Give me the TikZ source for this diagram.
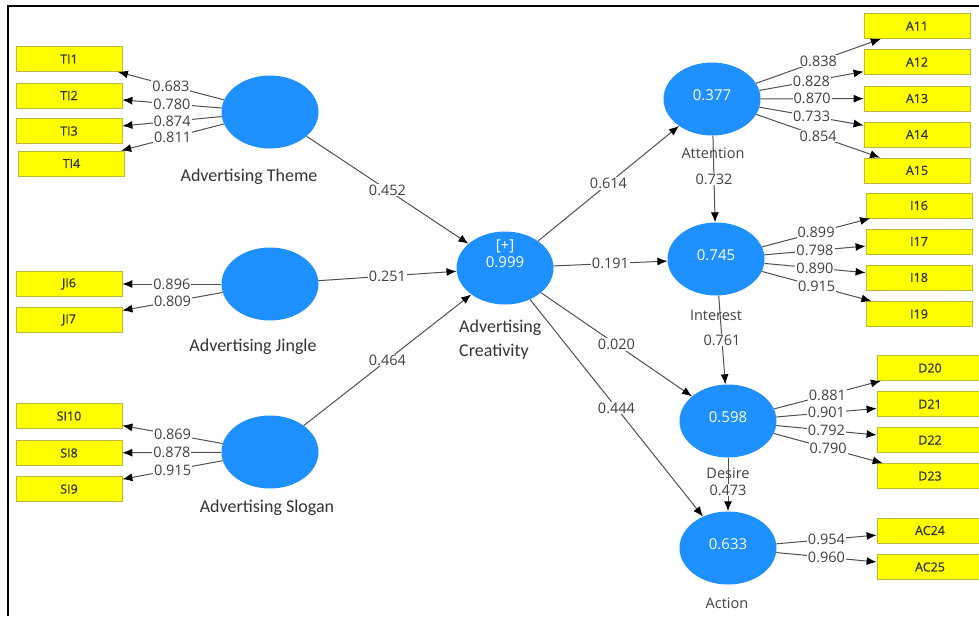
\documentclass[tikz,border=0pt]{standalone}
\usepackage{fontspec}
\setmainfont{Open Sans}
\newfontfamily\namefont{Carlito}
\newfontfamily\boxfont[FakeBold=0.8]{Open Sans}
\usetikzlibrary{shapes.geometric,arrows.meta}
\definecolor{lvblue}{RGB}{30,144,255}
\definecolor{indyellow}{RGB}{255,255,0}
\definecolor{indedge}{RGB}{185,185,60}
\definecolor{pathgray}{RGB}{80,80,80}
\definecolor{numgray}{RGB}{65,65,65}
\tikzset{
  lv/.style={ellipse, fill=lvblue, minimum width=97pt, minimum height=73pt,
    inner sep=0pt},
  lvval/.style={text=white, font=\fontsize{15}{17}\selectfont, yshift=4pt},
  ind/.style={rectangle, fill=indyellow, draw=indedge, line width=0.8pt,
    minimum width=106pt, minimum height=25pt, inner sep=0pt,
    text=black!80, font=\boxfont\fontsize{12.5}{14}\selectfont},
  link/.style={draw=pathgray, line width=1pt,
    -{Latex[length=10pt,width=8pt,color=black]}},
  coef/.style={pos=0.5, fill=white, inner sep=1pt, text=numgray,
    font=\fontsize{14.5}{16}\selectfont},
  bigname/.style={inner sep=0pt, text=black!80, font=\namefont\fontsize{18}{24}\selectfont},
  smallname/.style={inner sep=0pt, text=numgray, font=\fontsize{14.5}{16}\selectfont}
}
\begin{document}
\begin{tikzpicture}[x=1pt,y=-1pt]
  \useasboundingbox (0,0) rectangle (979,616);
  \draw[line width=2pt] (8,616) -- (8,6) -- (979,6);

  % exogenous constructs and their indicators
  \node[lv] (theme) at (270,112) {};
  \node[lv] (jingle) at (270,284) {};
  \node[lv] (slogan) at (270,452) {};
  \draw (69,59) node[ind] (ti1) {TI1}
    ++(0,36.5) node[ind] (ti2) {TI2}
    ++(0,35.5) node[ind] (ti3) {TI3}
    ++(2.5,32.5) node[ind] (ti4) {TI4};
  \draw (69,284) node[ind] (ji6) {JI6}
    ++(0,36) node[ind] (ji7) {JI7};
  \draw (69,416) node[ind] (si10) {SI10}
    ++(0,37) node[ind] (si8) {SI8}
    ++(0,36) node[ind] (si9) {SI9};

  % second order construct
  \node[lv, label={[lvval,yshift=10pt,align=center]center:{[+]\\0.999}}] (creat) at (505,268) {};

  % AIDA constructs
  \node[lv, label={[lvval]center:0.377}] (atten) at (712,99) {};
  \node[lv, label={[lvval]center:0.745}] (inter) at (716,259) {};
  \node[lv, label={[lvval]center:0.598}] (desire) at (728,421) {};
  \node[lv, label={[lvval]center:0.633}] (action) at (728,548) {};
  \draw (917,26) node[ind] (a11) {A11}
    ++(0,36) node[ind] (a12) {A12}
    ++(0,36.5) node[ind] (a13) {A13}
    ++(0,36) node[ind] (a14) {A14}
    ++(0,36) node[ind] (a15) {A15};
  \draw (919,205.5) node[ind] (i16) {I16}
    ++(0,36) node[ind] (i17) {I17}
    ++(0,36) node[ind] (i18) {I18}
    ++(0,36.5) node[ind] (i19) {I19};
  \draw (930,368) node[ind] (d20) {D20}
    ++(0,36) node[ind] (d21) {D21}
    ++(0,36) node[ind] (d22) {D22}
    ++(0,36) node[ind] (d23) {D23};
  \draw (930,530.5) node[ind] (ac24) {AC24}
    ++(0,36.5) node[ind] (ac25) {AC25};

  % outer loadings
  \draw[link] (theme) -- (ti1) node[coef] {0.683};
  \draw[link] (theme) -- (ti2) node[coef] {0.780};
  \draw[link] (theme) -- (ti3) node[coef] {0.874};
  \draw[link] (theme) -- (ti4) node[coef] {0.811};
  \draw[link] (jingle) -- (ji6) node[coef] {0.896};
  \draw[link] (jingle) -- (ji7) node[coef] {0.809};
  \draw[link] (slogan) -- (si10) node[coef] {0.869};
  \draw[link] (slogan) -- (si8) node[coef] {0.878};
  \draw[link] (slogan) -- (si9) node[coef] {0.915};
  \draw[link] (atten) -- (a11) node[coef] {0.838};
  \draw[link] (atten) -- (a12) node[coef] {0.828};
  \draw[link] (atten) -- (a13) node[coef] {0.870};
  \draw[link] (atten) -- (a14) node[coef] {0.733};
  \draw[link] (atten) -- (a15) node[coef] {0.854};
  \draw[link] (inter) -- (i16) node[coef] {0.899};
  \draw[link] (inter) -- (i17) node[coef] {0.798};
  \draw[link] (inter) -- (i18) node[coef] {0.890};
  \draw[link] (inter) -- (i19) node[coef] {0.915};
  \draw[link] (desire) -- (d20) node[coef] {0.881};
  \draw[link] (desire) -- (d21) node[coef] {0.901};
  \draw[link] (desire) -- (d22) node[coef] {0.792};
  \draw[link] (desire) -- (d23) node[coef] {0.790};
  \draw[link] (action) -- (ac24) node[coef] {0.954};
  \draw[link] (action) -- (ac25) node[coef] {0.960};

  % path coefficients
  \draw[link] (theme) -- (creat) node[coef] {0.452};
  \draw[link] (jingle) -- (creat) node[coef] {0.251};
  \draw[link] (slogan) -- (creat) node[coef] {0.464};
  \draw[link] (creat) -- (atten) node[coef] {0.614};
  \draw[link] (creat) -- (inter) node[coef] {0.191};
  \draw[link] (creat) -- (desire) node[coef] {0.020};
  \draw[link] (creat) -- (action) node[coef] {0.444};
  \draw[link] (atten) -- (inter) node[coef] {0.732};
  \draw[link] (inter) -- (desire) node[coef] {0.761};
  \draw[link] (desire) -- (action) node[coef, pos=0.6] {0.473};

  % construct names
  \node[bigname] (themename) at (249,177) {Advertising Theme};
  \node[bigname] (jinglename) at (253,347) {Advertising Jingle};
  \node[bigname] (sloganname) at (267,508) {Advertising Slogan};
  \node[bigname, align=left, anchor=north west] (creatname) at (459,320) {Advertising\\Creativity};
  \node[smallname] (attenname) at (713,153) {Attention};
  \node[smallname] (intername) at (716,315) {Interest};
  \node[smallname] (desirename) at (728,473) {Desire};
  \node[smallname] (actionname) at (727,603) {Action};
\end{tikzpicture}
\end{document}
